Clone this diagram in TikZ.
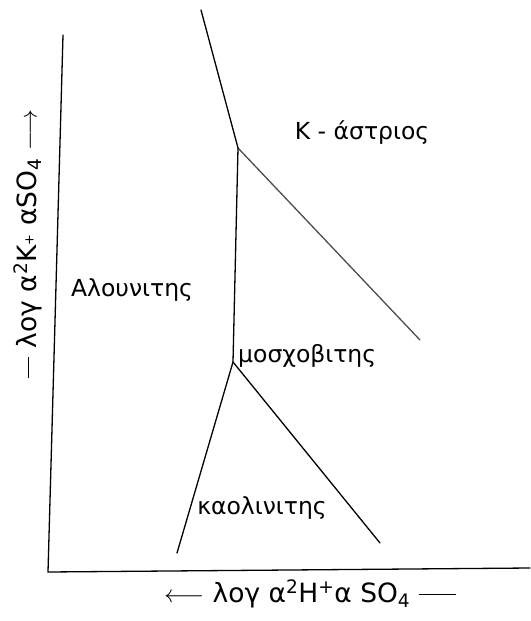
\documentclass[tikz,border=0pt]{standalone}
\usepackage{fontspec}
\setmainfont{DejaVu Sans}
\begin{document}
\begin{tikzpicture}[x=1pt,y=-1pt,
  line/.style={line width=1.3pt, line cap=round},
  lbl/.style={font=\fontsize{23.5}{26}\selectfont, inner sep=0pt},
  axl/.style={font=\fontsize{26.5}{29}\selectfont, inner sep=0pt}]
\useasboundingbox (0,0) rectangle (530,621);
\coordinate (yt) at (63,35);
\coordinate (o) at (48,572);
\coordinate (xr) at (530,568);
\coordinate (top) at (201,10);
\coordinate (t1) at (238,148);
\coordinate (e1) at (420,340);
\coordinate (t2) at (233,362);
\coordinate (e2) at (177,553);
\coordinate (e3) at (380,543);
\draw[line] (yt) -- (o) -- (xr);
\draw[line] (top) -- (t1);
\draw[line, gray!60!black] (t1) -- (e1);
\draw[line] (t1) -- (t2);
\draw[line] (t2) -- (e2);
\draw[line] (t2) -- (e3);
\node[lbl] (kf) at (362,133) {K - άστριος};
\node[lbl] (al) at (132,290) {Αλουνιτης};
\node[lbl, anchor=west] (mu) at (238,356) {μοσχοβιτης};
\node[lbl] (ka) at (262,508) {καολινιτης};
\node[axl, rotate=90] (ylab) at (28,244) {\rule[0.3em]{0.8em}{0.9pt}\ λογ α\textsuperscript{2}K{\fontsize{13}{14}\selectfont\raisebox{3pt}{+}} αSO\textsubscript{4} $\longrightarrow$};
\node[axl] (xlab) at (310,594) {$\longleftarrow$ λογ α\textsuperscript{2}H\textsuperscript{+}α SO\textsubscript{4} \rule[0.3em]{1.4em}{0.9pt}};
\end{tikzpicture}
\end{document}
